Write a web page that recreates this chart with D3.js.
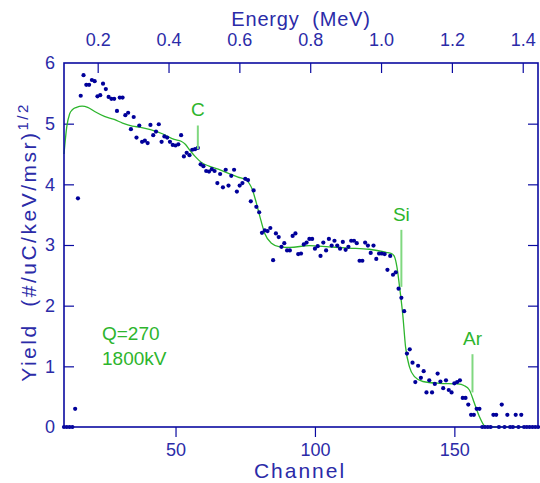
<!DOCTYPE html>
<html>
<head>
<meta charset="utf-8">
<script src="https://cdn.jsdelivr.net/npm/d3@7"></script>
<style>
  body { margin: 0; background: #fff; }
  svg text { font-family: "Liberation Sans", Arial, sans-serif; }
</style>
</head>
<body>
<svg id="chart" width="540" height="483"></svg>
<script>
// measured yield per channel, starting at channel 10
const firstChannel = 10;
const yields = [
  0, 0, 0, 0, 0.30, 3.77, 5.46, 5.80, 5.64, 5.64,           // 10-19
  5.72, 5.70, 5.45, 5.47, 5.66, 5.57, 5.44, 5.41, 5.41, 5.21, // 20-29
  5.43, 5.43, 5.14, 5.18, 4.91, 5.11, 4.77, 4.97, 4.70, 4.72, // 30-39
  4.68, 4.98, 4.81, 4.87, 4.99, 4.70, 4.79, 4.77, 4.70, 4.65, // 40-49
  4.64, 4.66, 4.81, 4.46, 4.52, 4.48, 4.57, 4.58, 4.60, 4.33, // 50-59
  4.30, 4.22, 4.21, 4.25, 4.22, 4.02, 4.17, 3.95, 4.24, 3.98, // 60-69
  4.14, 4.24, 3.88, 3.98, 4.02, 4.09, 4.07, 3.72, 3.90, 3.63, // 70-79
  3.54, 3.20, 3.24, 3.23, 3.28, 2.75, 3.19, 3.13, 2.97, 3.03, // 80-89
  2.91, 2.91, 3.15, 3.19, 2.85, 2.86, 3.01, 3.04, 3.10, 3.10, // 90-99
  2.94, 2.98, 2.82, 3.04, 2.91, 3.10, 2.99, 3.07, 2.99, 2.94, // 100-109
  3.05, 2.92, 2.97, 3.07, 3.07, 3.03, 2.74, 2.74, 3.04, 2.99, // 110-119
  2.87, 2.99, 2.77, 2.86, 2.86, 2.85, 2.59, 2.82, 2.51, 2.55, // 120-129
  2.28, 2.13, 1.91, 1.21, 1.28, 1.06, 0.74, 1.01, 0.81, 0.92, // 130-139
  0.57, 0.77, 0.57, 0.71, 0.88, 0.75, 0.64, 0.77, 0.61, 0.57, // 140-149
  0.72, 0.74, 0.77, 0.48, 0.48, 0.37, 0.20, 0.20, 0.30, 0.30, // 150-159
  0, 0, 0, 0, 0.20, 0.20, 0, 0.37, 0, 0.20,                 // 160-169
  0, 0, 0.20, 0, 0.20, 0, 0, 0, 0, 0,                       // 170-179
  0                                                         // 180
];

// simulated fit
const fitChannel = [10, 11, 12, 13, 14.5, 16.5, 18.5, 21, 24.5, 28, 31, 34.5, 37.5, 41, 45.5, 49.5, 52, 53.5,
  55, 57, 59.3, 62, 65.3, 69, 72.4, 75.4, 76.5, 77.5, 79, 80.6, 82, 84.4, 87.4, 91, 98, 105, 112, 119.5,
  125.5, 127.5, 128.5, 129.4, 130.3, 131.5, 132.5, 133.9, 135.7, 138.7, 144.6, 151.2, 153.6, 155.4,
  157.2, 159, 160.8, 162, 180];
const fitYield = [4.50, 4.95, 5.16, 5.23, 5.27, 5.29, 5.27, 5.20, 5.12, 5.07, 5.01, 4.96, 4.94, 4.90, 4.83, 4.74, 4.71, 4.66,
  4.57, 4.46, 4.36, 4.30, 4.25, 4.18, 4.12, 4.07, 4.01, 3.92, 3.69, 3.41, 3.19, 3.03, 2.97, 2.96, 2.99, 2.97, 2.95, 2.93,
  2.88, 2.86, 2.81, 2.64, 2.33, 1.85, 1.32, 0.99, 0.83, 0.75, 0.72, 0.71, 0.68, 0.61,
  0.39, 0.17, 0.02, 0, 0];

// surface edge markers
const edgeLabels = ["C", "Si", "Ar"];
const edgeChannel = [58, 131, 156.5];
const edgeTop = [4.97, 3.25, 1.20];
const edgeBottom = [4.58, 2.31, 0.57];

const channelTicks = [50, 100, 150];
const energyTicks = [0.2, 0.4, 0.6, 0.8, 1.0, 1.2, 1.4];
const yieldTicks = [0, 1, 2, 3, 4, 5, 6];
const energyRange = [0.1049, 1.4431];   // energy at channel 10 and 180

const margin = { top: 63, right: 2, bottom: 56, left: 64 };
const W = 540, H = 483;
const w = W - margin.left - margin.right, h = H - margin.top - margin.bottom;

const blue = "#0a0aa0", textBlue = "#2b2ba8", green = "#2db52d", lightGreen = "#80d880";

const svg = d3.select("#chart");
const g = svg.append("g").attr("transform", `translate(${margin.left},${margin.top})`);

const x = d3.scaleLinear().domain([10, 180]).range([0, w]);
const xE = d3.scaleLinear().domain(energyRange).range([0, w]);
const y = d3.scaleLinear().domain([0, 6]).range([h, 0]);

function styleAxis(sel) {
  sel.select(".domain").remove();
  sel.selectAll(".tick line").attr("stroke", blue).attr("stroke-width", 1.2);
  sel.selectAll(".tick text").attr("fill", textBlue).attr("font-size", 18)
    .attr("font-family", "Liberation Sans, Arial, sans-serif");
}

g.append("g").attr("transform", `translate(0,${h})`)
  .call(d3.axisBottom(x).tickValues(channelTicks).tickFormat(d3.format("d")).tickSize(10).tickPadding(6))
  .call(styleAxis);

g.append("g")
  .call(d3.axisTop(xE).tickValues(energyTicks).tickFormat(d3.format(".1f")).tickSize(-10).tickPadding(17))
  .call(styleAxis);

g.append("g")
  .call(d3.axisLeft(y).tickValues(yieldTicks.slice(1, 6)).tickFormat(d3.format("d")).tickSize(-10).tickPadding(9))
  .call(styleAxis);
// labels 0 and 6 without tick marks
g.selectAll(".yEnd").data([yieldTicks[0], yieldTicks[6]]).join("text")
  .attr("x", -9).attr("y", d => y(d)).attr("dy", "0.35em")
  .attr("text-anchor", "end").attr("font-size", 18).attr("fill", textBlue).text(d => d);

g.append("g").attr("transform", `translate(${w},0)`)
  .call(d3.axisRight(y).tickValues(yieldTicks.slice(1, 6)).tickSize(-10).tickFormat(""))
  .call(styleAxis);

// fit curve
const line = d3.line().x(d => x(d[0])).y(d => y(d[1])).curve(d3.curveMonotoneX);
g.append("path").datum(d3.zip(fitChannel, fitYield))
  .attr("d", line).attr("fill", "none").attr("stroke", green).attr("stroke-width", 1.3);

// data points
g.selectAll(".pt").data(yields).join("circle")
  .attr("cx", (d, i) => x(firstChannel + i)).attr("cy", d => y(d))
  .attr("r", 2.1).attr("fill", "#00009a");

// frame
g.append("rect").attr("width", w).attr("height", h)
  .attr("fill", "none").attr("stroke", blue).attr("stroke-width", 1.6);

// edge markers
edgeLabels.forEach((lab, i) => {
  g.append("line")
    .attr("x1", x(edgeChannel[i])).attr("x2", x(edgeChannel[i]))
    .attr("y1", y(edgeTop[i])).attr("y2", y(edgeBottom[i]))
    .attr("stroke", lightGreen).attr("stroke-width", 2);
  g.append("text").attr("x", x(edgeChannel[i])).attr("y", y(edgeTop[i]) - 9)
    .attr("text-anchor", "middle").attr("font-size", 19).attr("fill", green).text(lab);
});

// run notes
g.append("text").attr("x", 38).attr("y", 277).attr("font-size", 19).attr("fill", green).text("Q=270");
g.append("text").attr("x", 38).attr("y", 302).attr("font-size", 19).attr("fill", green).text("1800kV");

// axis titles
svg.append("text").attr("x", margin.left + w / 2 - 1).attr("y", 478)
  .attr("text-anchor", "middle").attr("font-size", 21).attr("letter-spacing", 2)
  .attr("fill", textBlue).text("Channel");
svg.append("text").attr("x", 301).attr("y", 26)
  .attr("text-anchor", "middle").attr("font-size", 20).attr("letter-spacing", 0.8)
  .attr("fill", textBlue).attr("xml:space", "preserve").text("Energy  (MeV)");

const yl = svg.append("text").attr("transform", "translate(36,242) rotate(-90)")
  .attr("text-anchor", "middle").attr("font-size", 21).attr("letter-spacing", 2.5)
  .attr("fill", textBlue).attr("xml:space", "preserve");
yl.append("tspan").text("Yield  (#/uC/keV/msr)");
yl.append("tspan").attr("dy", -8).attr("font-size", 15).text("1/2");
</script>
</body>
</html>
